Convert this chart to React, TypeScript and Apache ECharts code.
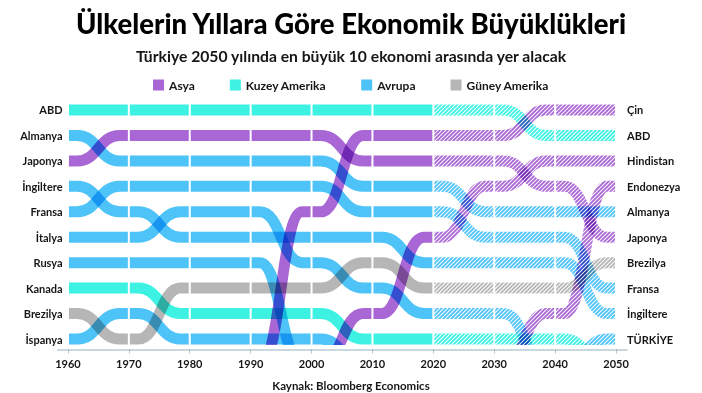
import React, { useEffect, useRef } from 'react';
import * as echarts from 'echarts';

// ---------- data ----------
const years = [1960, 1970, 1980, 1990, 2000, 2010, 2020, 2030, 2040, 2050];
const forecastFrom = 2020;

const regions = ['Asya', 'Kuzey Amerika', 'Avrupa', 'Güney Amerika'];
const regionColors = ['#a966d5', '#3ef2e3', '#4ec3f8', '#b6b6b6'];

// rank at each decade (1 = largest); 11 = just outside the top 10; null = not shown
const ABD = [1, 1, 1, 1, 1, 1, 1, 1, 2, 2];
const Almanya = [2, 3, 3, 3, 3, 4, 4, 5, 5, 5];
const Japonya = [3, 2, 2, 2, 2, 3, 3, 3, 4, 6];
const Ingiltere = [4, 5, 6, 6, 6, 6, 7, 7, 7, 9];
const Fransa = [5, 4, 4, 4, 4, 5, 5, 6, 6, 8];
const Italya = [6, 6, 5, 5, 7, 8, 9, 9, 11, null];
const Rusya = [7, 7, 7, 7, 11, null, null, null, null, null];
const Kanada = [8, 8, 9, 9, 9, 10, 10, 10, 10, 11];
const Brezilya = [9, 10, 8, 8, 8, 7, 8, 8, 8, 7];
const Ispanya = [10, 9, 10, 10, 10, 11, null, null, null, null];
const Cin = [null, null, null, 11, 5, 2, 2, 2, 1, 1];
const Hindistan = [null, null, null, null, 11, 9, 6, 4, 3, 3];
const Endonezya = [null, null, null, null, null, null, null, 11, 9, 4];
const Turkiye = [null, null, null, null, null, null, null, null, 11, 10];

const countries = [
  { name: 'ABD', region: 'Kuzey Amerika', ranks: ABD },
  { name: 'Almanya', region: 'Avrupa', ranks: Almanya },
  { name: 'Japonya', region: 'Asya', ranks: Japonya },
  { name: 'İngiltere', region: 'Avrupa', ranks: Ingiltere },
  { name: 'Fransa', region: 'Avrupa', ranks: Fransa },
  { name: 'İtalya', region: 'Avrupa', ranks: Italya },
  { name: 'Rusya', region: 'Avrupa', ranks: Rusya },
  { name: 'Kanada', region: 'Kuzey Amerika', ranks: Kanada },
  { name: 'Brezilya', region: 'Güney Amerika', ranks: Brezilya },
  { name: 'İspanya', region: 'Avrupa', ranks: Ispanya },
  { name: 'Çin', region: 'Asya', ranks: Cin },
  { name: 'Hindistan', region: 'Asya', ranks: Hindistan },
  { name: 'Endonezya', region: 'Asya', ranks: Endonezya },
  { name: 'TÜRKİYE', region: 'Avrupa', ranks: Turkiye },
];

const rankTicks = [1, 2, 3, 4, 5, 6, 7, 8, 9, 10];

const FONT = 'Lato, "Noto Sans", sans-serif';
const TEXT = '#161616';

function nameAt(yearIdx: number, rank: number) {
  const c = countries.find((k) => k.ranks[yearIdx] === rank);
  return c ? c.name : '';
}

function hatchPattern(color: string) {
  const s = 4;
  const c = document.createElement('canvas');
  c.width = s;
  c.height = s;
  const g = c.getContext('2d')!;
  g.fillStyle = color;
  g.fillRect(0, 0, s, s);
  g.strokeStyle = 'rgba(255,255,255,0.95)';
  g.lineWidth = 1.1;
  g.beginPath();
  g.moveTo(0, s);
  g.lineTo(s, 0);
  g.moveTo(-1, 1);
  g.lineTo(1, -1);
  g.moveTo(s - 1, s + 1);
  g.lineTo(s + 1, s - 1);
  g.stroke();
  return { image: c.toDataURL(), repeat: 'repeat', imageWidth: s, imageHeight: s };
}

export default function App() {
  const ref = useRef<HTMLDivElement>(null);

  useEffect(() => {
    if (!ref.current) return;
    const chart = echarts.init(ref.current, null, { renderer: 'svg' });

    const series = regions.map((region, ri) => {
      const color = regionColors[ri];
      const pattern = hatchPattern(color);
      const data: any[] = [];
      countries
        .filter((c) => c.region === region)
        .forEach((c) => {
          for (let i = 0; i < years.length - 1; i++) {
            const a = c.ranks[i];
            const b = c.ranks[i + 1];
            if (a == null || b == null) continue;
            data.push([years[i], a, years[i + 1], b, years[i] >= forecastFrom ? 1 : 0]);
          }
        });
      return {
        type: 'custom',
        name: region,
        clip: true,
        itemStyle: { color },
        encode: { x: [0, 2], y: [1, 3] },
        data,
        renderItem: (params: any, api: any) => {
          const p0 = api.coord([api.value(0), api.value(1)]);
          const p1 = api.coord([api.value(2), api.value(3)]);
          const x0 = p0[0] + 1;
          const x1 = p1[0] - 1;
          const dx = x1 - x0;
          const xa = x0 + dx * 0.14;
          const xb = x1 - dx * 0.14;
          const xm = (xa + xb) / 2;
          const d =
            api.value(1) === api.value(3)
              ? `M${x0} ${p0[1]} L${x1} ${p1[1]}`
              : `M${x0} ${p0[1]} L${xa} ${p0[1]} C${xm} ${p0[1]} ${xm} ${p1[1]} ${xb} ${p1[1]} L${x1} ${p1[1]}`;
          return {
            type: 'path',
            shape: { pathData: d },
            style: {
              fill: 'none',
              stroke: api.value(4) ? pattern : color,
              lineWidth: 11,
              lineCap: 'butt',
            },
          };
        },
      };
    });

    const yCommon = {
      type: 'value',
      inverse: true,
      min: 0.78,
      max: 10.22,
      axisLine: { show: false },
      axisTick: { show: false },
      splitLine: { show: false },
    };

    chart.setOption({
      animation: false,
      title: [
        {
          text: 'Ülkelerin Yıllara Göre Ekonomik Büyüklükleri',
          left: 'center',
          top: 4,
          textStyle: { fontFamily: FONT, fontSize: 27.5, fontWeight: 900, color: '#000' },
        },
        {
          text: 'Türkiye 2050 yılında en büyük 10 ekonomi arasında yer alacak',
          left: 'center',
          top: 43,
          textStyle: { fontFamily: FONT, fontSize: 15.7, fontWeight: 'bold', color: TEXT },
        },
        {
          text: 'Kaynak: Bloomberg Economics',
          left: 'center',
          top: 374,
          textStyle: { fontFamily: FONT, fontSize: 11.5, fontWeight: 'bold', color: TEXT },
        },
      ],
      legend: {
        data: regions,
        top: 74,
        left: 'center',
        icon: 'rect',
        itemWidth: 11,
        itemHeight: 11,
        itemGap: 35,
        selectedMode: false,
        textStyle: { fontFamily: FONT, fontSize: 12, fontWeight: 'bold', color: TEXT },
      },
      grid: { left: 57.6, right: 75, top: 104.4, bottom: 48.4 },
      xAxis: {
        type: 'value',
        min: 1958.3,
        max: 2051.8,
        offset: 5,
        axisLine: { lineStyle: { color: '#b9ccd2', width: 1.5 } },
        axisTick: { customValues: years, length: 4, lineStyle: { color: '#b9ccd2' } },
        axisLabel: {
          customValues: years,
          margin: 8,
          fontFamily: FONT,
          fontSize: 11,
          fontWeight: 'bold',
          color: TEXT,
          formatter: (v: number) => String(v),
        },
        splitLine: { show: false },
      },
      yAxis: [
        {
          ...yCommon,
          position: 'left',
          axisLabel: {
            customValues: rankTicks,
            margin: -5,
            fontFamily: FONT,
            fontSize: 11,
            fontWeight: 'bold',
            color: TEXT,
            formatter: (v: number) => nameAt(0, v),
          },
        },
        {
          ...yCommon,
          position: 'right',
          axisLabel: {
            customValues: rankTicks,
            margin: 0,
            fontFamily: FONT,
            fontSize: 11,
            fontWeight: 'bold',
            color: TEXT,
            formatter: (v: number) => nameAt(years.length - 1, v),
          },
        },
      ],
      series,
    });

    return () => chart.dispose();
  }, []);

  return (
    <div className="bump">
      <style>{'.bump svg path, .bump svg g { mix-blend-mode: multiply; }'}</style>
      <div ref={ref} style={{ width: 702, height: 393, marginLeft: -8, marginTop: -8 }} />
    </div>
  );
}
